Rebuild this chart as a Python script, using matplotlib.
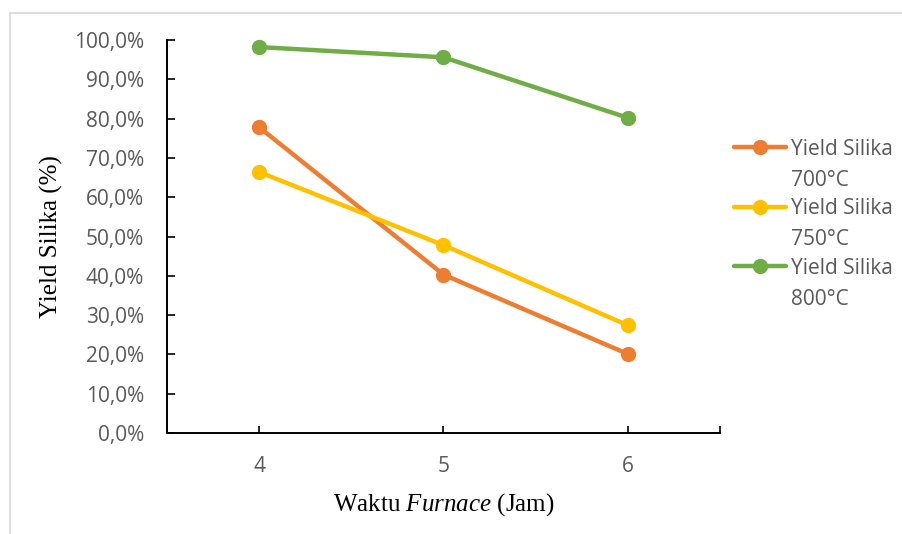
import matplotlib
matplotlib.use("Agg")
import matplotlib.pyplot as plt
from matplotlib.lines import Line2D

plt.rcParams["mathtext.fontset"] = "custom"
plt.rcParams["mathtext.it"] = "Liberation Serif:italic"
plt.rcParams["mathtext.rm"] = "Liberation Serif"

categories = ["4", "5", "6"]
series_names = ["Yield Silika\n700°C", "Yield Silika\n750°C", "Yield Silika\n800°C"]
yield_700 = [77.8, 40.3, 20.1]
yield_750 = [66.4, 47.8, 27.4]
yield_800 = [98.2, 95.6, 80.2]
y_ticks = [0, 10, 20, 30, 40, 50, 60, 70, 80, 90, 100]
y_tick_labels = ["0,0%", "10,0%", "20,0%", "30,0%", "40,0%", "50,0%",
                 "60,0%", "70,0%", "80,0%", "90,0%", "100,0%"]
colors = ["#ED7D31", "#FFC000", "#70AD47"]

W, H = 902, 534
fig = plt.figure(figsize=(W / 100, H / 100), dpi=100)
ax = fig.add_axes([167 / W, 1 - 433 / H, (720 - 167) / W, (433 - 40) / H])

x = list(range(len(categories)))
for vals, name, c in zip([yield_700, yield_750, yield_800], series_names, colors):
    ax.plot(x, vals, color=c, lw=3.2, marker="o", markersize=10, label=name,
            solid_capstyle="round", zorder=3, clip_on=False)

ax.set_xlim(-0.5, len(categories) - 0.5)
ax.set_ylim(0, 100)
ax.set_yticks(y_ticks)
ax.set_yticklabels(y_tick_labels)
ax.set_xticks(x + [len(categories) - 0.5])
ax.set_xticklabels(categories + [""])

for lab in ax.get_yticklabels() + ax.get_xticklabels():
    lab.set_fontfamily("Open Sans")
    lab.set_fontsize(15)
    lab.set_color("#595959")

ax.tick_params(axis="y", direction="in", length=5.5, width=1.2, color="black", pad=16.5)
ax.tick_params(axis="x", direction="in", length=5, width=1.2, color="black", pad=16.5)
for s in ["top", "right"]:
    ax.spines[s].set_visible(False)
for s in ["left", "bottom"]:
    ax.spines[s].set_linewidth(1.4)
    ax.spines[s].set_color("black")

ax.set_ylabel("Yield Silika (%)", family="Liberation Serif", fontsize=18, color="black")
ax.yaxis.set_label_coords((63 - 167) / (720 - 167), 0.5)
ax.set_xlabel("Waktu $\\it{Furnace}$ (Jam)", family="Liberation Serif", fontsize=18, color="black")
ax.xaxis.set_label_coords(0.5, -(491 - 433) / (433 - 40))

# legend drawn on the right, handle aligned with first text line
leg_y0 = 147
leg_step = 59.5
for i, (name, c) in enumerate(zip(series_names, colors)):
    yc = 1 - (leg_y0 + i * leg_step) / H
    fig.add_artist(Line2D([734 / W, 786 / W], [yc, yc], color=c, lw=3.2,
                          solid_capstyle="round", transform=fig.transFigure))
    fig.add_artist(Line2D([760 / W], [yc], color=c, marker="o", markersize=10,
                          transform=fig.transFigure))
    fig.text(791 / W, yc + 8 / H, name, family="Open Sans", fontsize=15,
             color="#595959", va="top", ha="left", linespacing=1.6)

fig.add_artist(Line2D([10 / W, 1], [1 - 13 / H, 1 - 13 / H], color="#D9D9D9", lw=1.2,
                      transform=fig.transFigure))
fig.add_artist(Line2D([10 / W, 10 / W], [0, 1 - 13 / H], color="#D9D9D9", lw=1.2,
                      transform=fig.transFigure))

fig.savefig("out.png", dpi=100)
